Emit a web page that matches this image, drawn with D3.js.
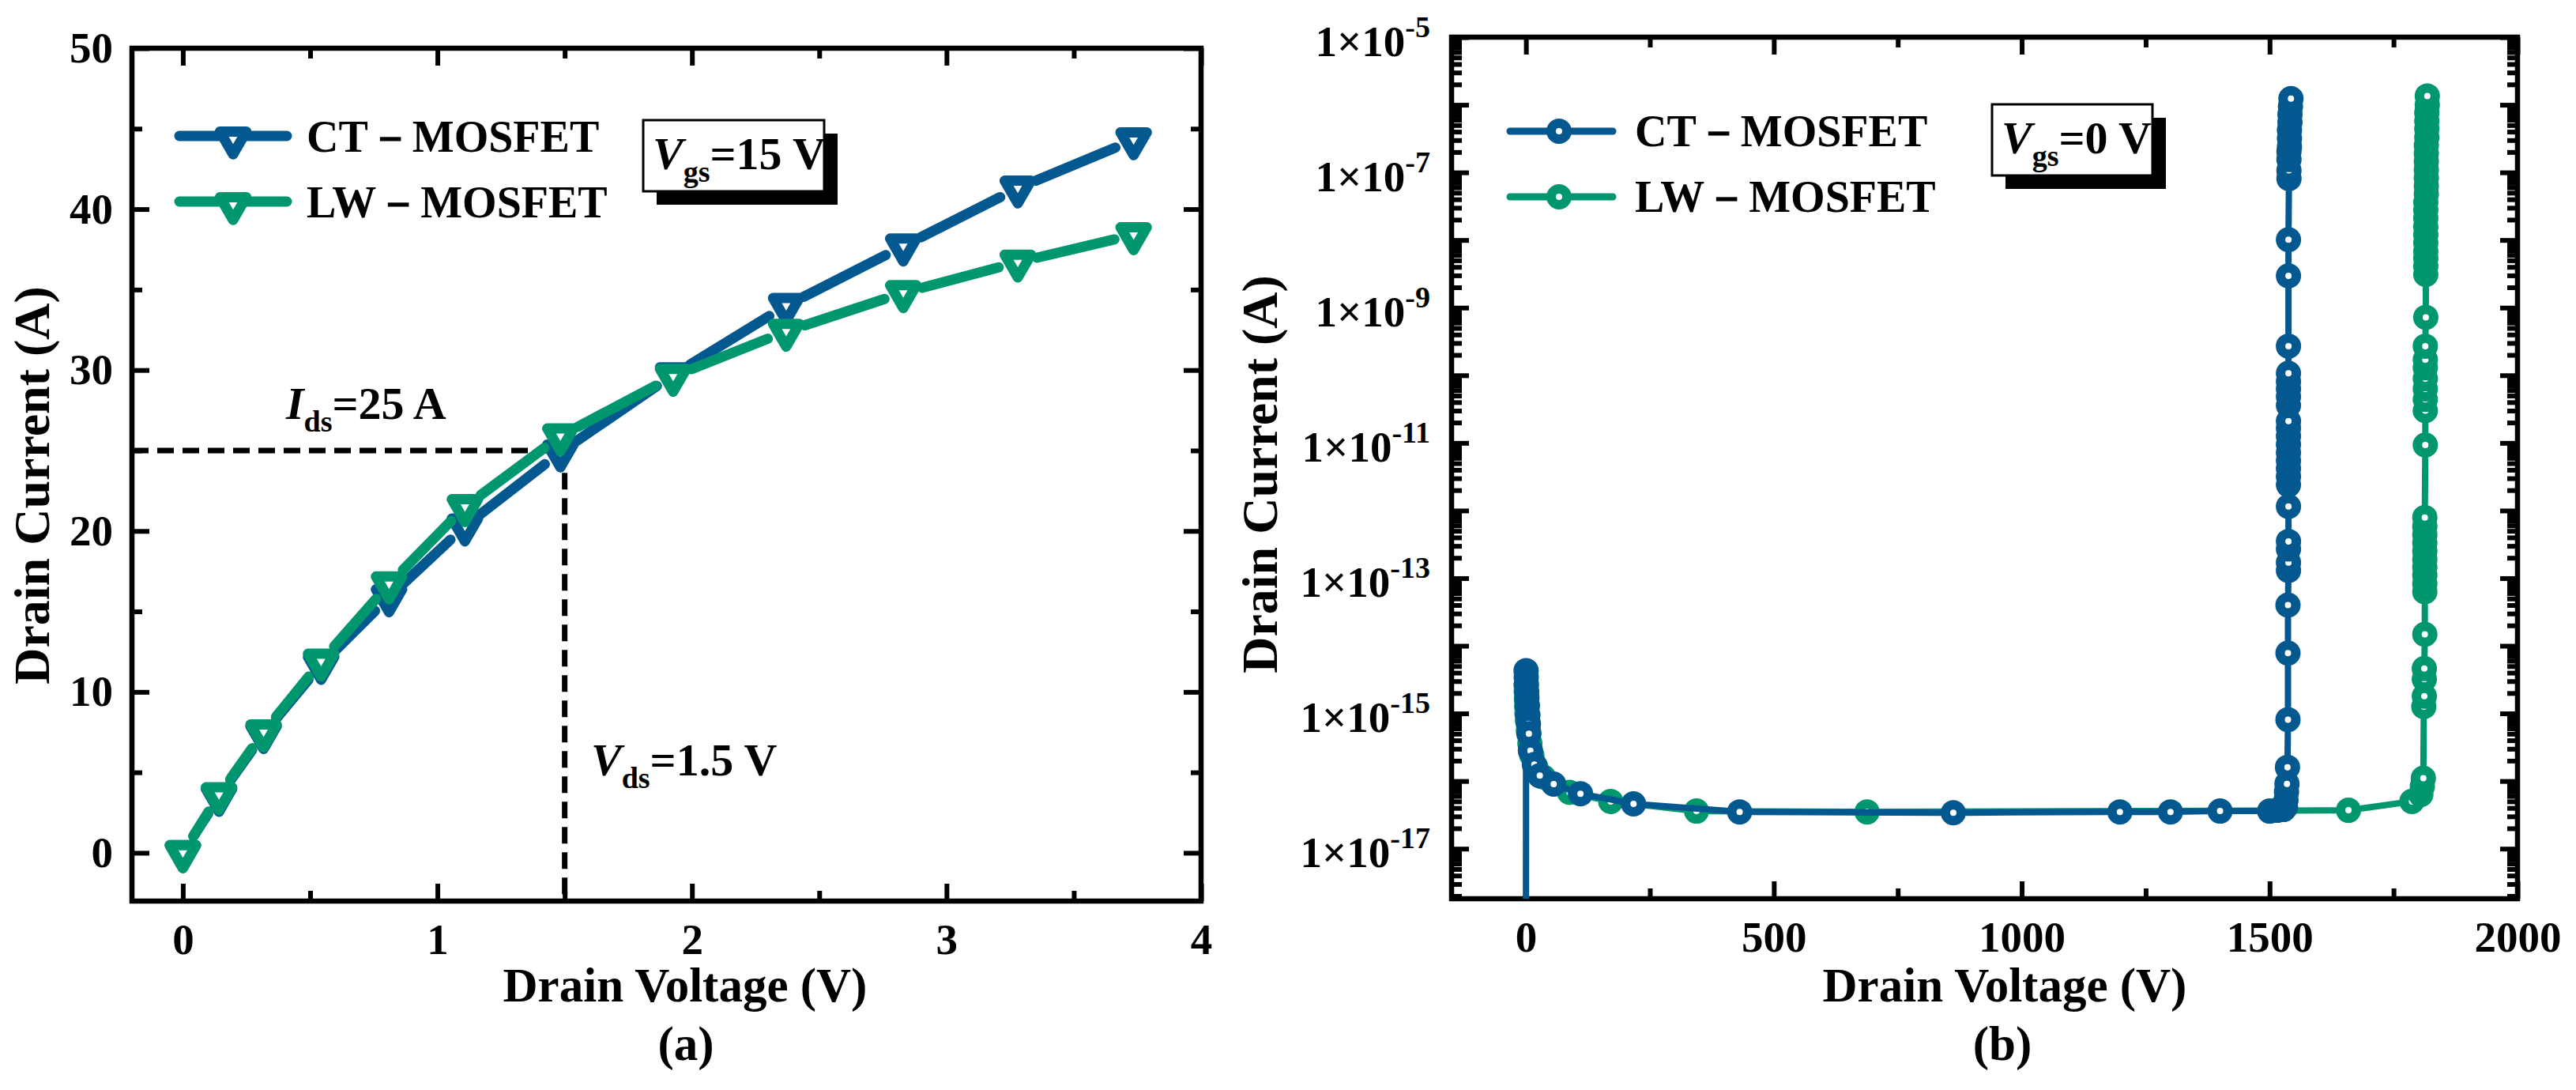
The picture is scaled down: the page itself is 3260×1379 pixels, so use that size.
<!DOCTYPE html>
<html>
<head>
<meta charset="utf-8">
<script src="https://cdn.jsdelivr.net/npm/d3@7"></script>
<style>
body { margin: 0; background: #fff; }
text { font-family: "Liberation Serif", "Times New Roman", serif; font-weight: bold; }
</style>
</head>
<body>
<div id="container"></div>
<script>

// (a) output curves, Vgs = 15 V
var onVoltage = [0, 0.142, 0.317, 0.543, 0.81, 1.108, 1.483, 1.926, 2.37, 2.83, 3.28, 3.735];
var onCT = [0, 3.5, 7.4, 11.7, 15.9, 20.3, 24.9, 29.7, 34.0, 37.7, 41.3, 44.3];
var onLW = [0, 3.6, 7.5, 11.9, 16.7, 21.5, 25.9, 29.6, 32.4, 34.8, 36.7, 38.4];

// (b) blocking curves, Vgs = 0 V
var offCTV = [0, 0.3, 0.6, 1, 1.5, 2, 3, 4, 5, 6, 9, 17, 28, 56, 110, 217, 431, 862, 1198, 1300, 1400, 1500, 1515, 1528,
	1532, 1533, 1534, 1535, 1536, 1537, 1537, 1537, 1538, 1538, 1538, 1538, 1538,
	1538, 1538, 1538, 1538, 1538, 1538, 1538, 1538, 1538,
	1538, 1538, 1538, 1538, 1538, 1538, 1538, 1538,
	1539, 1539, 1539, 1539, 1540, 1540, 1540, 1541, 1541, 1542, 1543];
var offCTI = [1e-19, 4.3e-15, 3.4e-15, 2.7e-15, 2.1e-15, 1.7e-15, 1.3e-15, 9.5e-16, 7e-16, 5e-16, 2.8e-16, 1.75e-16, 1.2e-16, 9e-17, 6.5e-17, 4.6e-17, 3.5e-17, 3.4e-17, 3.5e-17, 3.5e-17, 3.6e-17, 3.6e-17, 3.7e-17, 3.8e-17,
	4.1e-17, 5.2e-17, 6.9e-17, 9.1e-17, 1.6e-16, 8.1e-16, 7.8e-15, 4.0e-14, 1.3e-13, 1.7e-13, 2.7e-13, 3.5e-13, 1.15e-12,
	2.4e-12, 3.2e-12, 4.2e-12, 5.5e-12, 7.2e-12, 9.5e-12, 1.26e-11, 1.66e-11, 2.1e-11,
	3.6e-11, 4.8e-11, 6.3e-11, 8.1e-11, 1.07e-10, 2.7e-10, 2.95e-9, 1.01e-8,
	8.1e-8, 1.07e-7, 1.55e-7, 2.04e-7, 2.4e-7, 3.16e-7, 4.2e-7, 5.5e-7, 7.2e-7, 9.5e-7, 1.23e-6];
var offLWV = [0.3, 0.6, 1, 1.5, 2, 3, 5, 8, 12, 20, 35, 88, 171, 344, 688, 1659, 1787, 1805, 1808, 1810,
	1811, 1812, 1812, 1812, 1813,
	1813, 1813, 1813, 1813, 1813, 1813, 1813, 1813, 1813, 1813,
	1814, 1814, 1814, 1814, 1814, 1814, 1814, 1814, 1815,
	1815, 1815, 1815, 1815, 1815, 1815, 1815, 1815, 1815, 1815,
	1816, 1816, 1816, 1816, 1816, 1816, 1816, 1817, 1817, 1817, 1817, 1818, 1818];
var offLWI = [2.6e-15, 2.1e-15, 1.6e-15, 1.25e-15, 1.0e-15, 8e-16, 5.5e-16, 3.6e-16, 2.4e-16, 1.6e-16, 1.15e-16, 6.8e-17, 5.0e-17, 3.6e-17, 3.5e-17, 3.7e-17, 5.0e-17, 6.3e-17, 8.3e-17, 1.1e-16,
	1.26e-15, 1.8e-15, 3.2e-15, 4.6e-15, 1.48e-14,
	6.3e-14, 8.3e-14, 1.1e-13, 1.45e-13, 1.9e-13, 2.5e-13, 3.3e-13, 4.4e-13, 5.8e-13, 7.9e-13,
	9.3e-12, 3.0e-11, 4.4e-11, 6.3e-11, 8.9e-11, 1.29e-10, 1.7e-10, 2.7e-10, 7.2e-10,
	3.1e-9, 4.1e-9, 5.4e-9, 6.9e-9, 9.1e-9, 1.2e-8, 1.58e-8, 2.1e-8, 2.75e-8, 3.6e-8,
	4.8e-8, 6.3e-8, 8.3e-8, 1.1e-7, 1.45e-7, 1.9e-7, 2.5e-7, 3.3e-7, 4.4e-7, 5.75e-7, 7.6e-7, 1.0e-6, 1.35e-6];

var seriesNames = ["CT\uFF0DMOSFET", "LW\uFF0DMOSFET"];
var seriesColors = ["#03588F", "#00966E"];

var onTicksX = [0, 1, 2, 3, 4];
var onMinorX = [0.5, 1.5, 2.5, 3.5];
var onTicksY = [0, 10, 20, 30, 40, 50];
var onMinorY = [5, 15, 25, 35, 45];
var offTicksX = [0, 500, 1000, 1500, 2000];
var offMinorX = [250, 750, 1250, 1750];
var offDecades = [-17, -16, -15, -14, -13, -12, -11, -10, -9, -8, -7, -6, -5];

var svg = d3.select("#container").append("svg")
	.attr("width", 3260)
	.attr("height", 1379);
svg.append("rect").attr("width", 3260).attr("height", 1379).attr("fill", "#fff");

function gapSegments(pts, gap)
{// line pieces between markers, cut back at both ends like Origin does
	var segs = [];
	for (var i = 0; i < pts.length - 1; i++) {
		var a = pts[i], b = pts[i + 1];
		var dx = b[0] - a[0], dy = b[1] - a[1], L = Math.hypot(dx, dy);
		if (L <= 2 * gap) continue;
		var ux = dx / L, uy = dy / L;
		segs.push([a[0] + ux * gap, a[1] + uy * gap, b[0] - ux * gap, b[1] - uy * gap]);
	}
	return segs;
}

function drawFrame(g, x, y, xMajor, xMinor, yMajor, yMinor, yFormat, padY)
{// four-sided box, ticks inward, labels bottom and left
	var x0 = x.range()[0], x1 = x.range()[1], y0 = y.range()[1], y1 = y.range()[0];
	var axes = [
		g.append("g").attr("transform", "translate(0," + y1 + ")")
			.call(d3.axisBottom(x).tickValues(xMajor).tickSizeInner(-22).tickSizeOuter(0).tickPadding(28).tickFormat(d3.format("d"))),
		g.append("g").attr("transform", "translate(0," + y1 + ")")
			.call(d3.axisBottom(x).tickValues(xMinor).tickSize(-13).tickFormat("")),
		g.append("g").attr("transform", "translate(0," + y0 + ")")
			.call(d3.axisTop(x).tickValues(xMajor).tickSize(-22).tickFormat("")),
		g.append("g").attr("transform", "translate(0," + y0 + ")")
			.call(d3.axisTop(x).tickValues(xMinor).tickSize(-13).tickFormat("")),
		g.append("g").attr("transform", "translate(" + x0 + ",0)")
			.call(d3.axisLeft(y).tickValues(yMajor).tickSizeInner(-22).tickSizeOuter(0).tickPadding(padY).tickFormat(yFormat)),
		g.append("g").attr("transform", "translate(" + x0 + ",0)")
			.call(d3.axisLeft(y).tickValues(yMinor).tickSize(-13).tickFormat("")),
		g.append("g").attr("transform", "translate(" + x1 + ",0)")
			.call(d3.axisRight(y).tickValues(yMajor).tickSize(-22).tickFormat("")),
		g.append("g").attr("transform", "translate(" + x1 + ",0)")
			.call(d3.axisRight(y).tickValues(yMinor).tickSize(-13).tickFormat(""))
	];
	axes.forEach(function (a) {
		a.select(".domain").remove();
		a.selectAll(".tick line").attr("stroke", "#000").attr("stroke-width", 6);
		a.selectAll(".tick text").attr("fill", "#000").attr("font-size", 55)
			.attr("font-family", "Liberation Serif").attr("font-weight", "bold");
	});
	g.append("rect")
		.attr("x", x0).attr("y", y0)
		.attr("width", x1 - x0).attr("height", y1 - y0)
		.attr("fill", "none").attr("stroke", "#000").attr("stroke-width", 6.5);
	return axes;
}

function gsBox(g, bx, by, bw, bh, tail)
{// framed Vgs label with a solid shadow
	g.append("rect").attr("x", bx + 17).attr("y", by + 17).attr("width", bw).attr("height", bh).attr("fill", "#000");
	g.append("rect").attr("x", bx).attr("y", by).attr("width", bw).attr("height", bh)
		.attr("fill", "#fff").attr("stroke", "#000").attr("stroke-width", 3);
	var t = g.append("text").attr("x", bx + 12).attr("y", by + 62).attr("font-size", 58);
	t.append("tspan").attr("font-style", "italic").text("V");
	t.append("tspan").attr("font-size", 38).attr("dy", 16).text("gs");
	t.append("tspan").attr("dy", -16).text(tail);
}

var triangle = d3.symbol().type(d3.symbolTriangle).size(480);

// ---------- (a) ----------
var ga = svg.append("g");
var xa = d3.scaleLinear().domain([-0.2, 4]).range([167, 1520]);
var ya = d3.scaleLinear().domain([-3, 50]).range([1140, 61]);

drawFrame(ga, xa, ya, onTicksX, onMinorX, onTicksY, onMinorY, d3.format("d"), 24);

// Ids = 25 A / Vds = 1.5 V guides
ga.append("path")
	.attr("d", "M" + xa(-0.2) + "," + ya(25) + "H" + xa(1.5) + "V" + ya(-3))
	.attr("fill", "none").attr("stroke", "#000").attr("stroke-width", 7)
	.attr("stroke-dasharray", "21,11");

var onSeries = [onCT, onLW];
onSeries.forEach(function (vals, k) {
	var pts = onVoltage.map((v, i) => [xa(v), ya(vals[i])]);
	var sg = ga.append("g");
	sg.selectAll("line")
		.data(gapSegments(pts, 25))
		.enter()
		.append("line")
			.attr("x1", (d) => d[0]).attr("y1", (d) => d[1])
			.attr("x2", (d) => d[2]).attr("y2", (d) => d[3])
			.attr("stroke", seriesColors[k]).attr("stroke-width", 13)
			.attr("stroke-linecap", "round");
	sg.selectAll("path")
		.data(pts)
		.enter()
		.append("path")
			.attr("d", triangle)
			.attr("transform", (d) => "translate(" + d[0] + "," + d[1] + ") rotate(180)")
			.attr("fill", "#fff").attr("stroke", seriesColors[k]).attr("stroke-width", 13)
			.attr("stroke-linejoin", "round");
});

// legend (a)
seriesNames.forEach(function (name, k) {
	var ly = 172 + k * 83;
	ga.append("line").attr("x1", 227).attr("x2", 363).attr("y1", ly).attr("y2", ly)
		.attr("stroke", seriesColors[k]).attr("stroke-width", 13).attr("stroke-linecap", "round");
	ga.append("path")
		.attr("d", triangle)
		.attr("transform", "translate(295," + (ly + 4) + ") rotate(180)")
		.attr("fill", "#fff").attr("stroke", seriesColors[k]).attr("stroke-width", 13)
		.attr("stroke-linejoin", "round");
	ga.append("text").attr("x", 388).attr("y", ly + 20).attr("font-size", 56).text(name);
});
gsBox(ga, 814, 152, 229, 90, "=15 V");

var t1 = ga.append("text").attr("x", 362).attr("y", 530).attr("font-size", 58);
t1.append("tspan").attr("font-style", "italic").text("I");
t1.append("tspan").attr("font-size", 38).attr("dy", 16).text("ds");
t1.append("tspan").attr("dy", -16).text("=25 A");
var t2 = ga.append("text").attr("x", 748).attr("y", 981).attr("font-size", 58);
t2.append("tspan").attr("font-style", "italic").text("V");
t2.append("tspan").attr("font-size", 38).attr("dy", 16).text("ds");
t2.append("tspan").attr("dy", -16).text("=1.5 V");

ga.append("text").attr("x", 867).attr("y", 1267).attr("text-anchor", "middle").attr("font-size", 61).text("Drain Voltage (V)");
ga.append("text").attr("x", 868).attr("y", 1341).attr("text-anchor", "middle").attr("font-size", 61).text("(a)");
ga.append("text").attr("transform", "translate(62,614) rotate(-90)").attr("text-anchor", "middle").attr("font-size", 64).text("Drain Current (A)");

// ---------- (b) ----------
var gb = svg.append("g");
var xb = d3.scaleLinear().domain([-150, 2000]).range([1837, 3186]);
var yb = d3.scaleLog().domain([Math.pow(10, -17.74), 1e-5]).range([1137, 47]);

var offMajorY = offDecades.map((e) => Math.pow(10, e));
var offMinorY = [];
d3.range(-18, -5).forEach(function (e) {
	d3.range(2, 10).forEach(function (m) {
		var v = m * Math.pow(10, e);
		if (v > yb.domain()[0] && v < yb.domain()[1]) offMinorY.push(v);
	});
});
var logFmt = function (d) {
	var e = Math.round(Math.log10(d));
	return (e % 2 !== 0) ? "1\u00D710|" + e : "";
};
var axesB = drawFrame(gb, xb, yb, offTicksX, offMinorX, offMajorY, offMinorY, logFmt, 27);
axesB[4].selectAll(".tick text").each(function () {
	var s = d3.select(this).text();
	if (!s) return;
	var parts = s.split("|");
	var t = d3.select(this).text("").attr("dy", "0.42em");
	t.append("tspan").text(parts[0]);
	t.append("tspan").attr("font-size", 38).attr("dy", -24).text(parts[1]);
});

gb.append("clipPath").attr("id", "clipB").append("rect")
	.attr("x", 1837).attr("y", 47).attr("width", 3186 - 1837).attr("height", 1137 - 47);
var plotB = gb.append("g").attr("clip-path", "url(#clipB)");

var offSeries = [[offCTV, offCTI], [offLWV, offLWI]];
[1, 0].forEach(function (k) { // LW underneath, CT on top
	var V = offSeries[k][0], I = offSeries[k][1];
	var pts = V.map((v, i) => [xb(v), yb(I[i])]);
	var sg = plotB.append("g");
	sg.selectAll("line")
		.data(gapSegments(pts, 17))
		.enter()
		.append("line")
			.attr("x1", (d) => d[0]).attr("y1", (d) => d[1])
			.attr("x2", (d) => d[2]).attr("y2", (d) => d[3])
			.attr("stroke", seriesColors[k]).attr("stroke-width", 8)
			.attr("stroke-linecap", "round");
	sg.selectAll("circle")
		.data(pts)
		.enter()
		.append("circle")
			.attr("cx", (d) => d[0]).attr("cy", (d) => d[1]).attr("r", 10)
			.attr("fill", "#fff").attr("stroke", seriesColors[k]).attr("stroke-width", 12);
});

// legend (b)
seriesNames.forEach(function (name, k) {
	var ly = 166 + k * 83;
	gb.append("line").attr("x1", 1911).attr("x2", 2041).attr("y1", ly).attr("y2", ly)
		.attr("stroke", seriesColors[k]).attr("stroke-width", 9).attr("stroke-linecap", "round");
	gb.append("circle").attr("cx", 1973).attr("cy", ly).attr("r", 10)
		.attr("fill", "#fff").attr("stroke", seriesColors[k]).attr("stroke-width", 12);
	gb.append("text").attr("x", 2069).attr("y", ly + 19).attr("font-size", 56).text(name);
});
gsBox(gb, 2521, 132, 203, 90, "=0 V");

gb.append("text").attr("x", 2537).attr("y", 1267).attr("text-anchor", "middle").attr("font-size", 61).text("Drain Voltage (V)");
gb.append("text").attr("x", 2534).attr("y", 1341).attr("text-anchor", "middle").attr("font-size", 61).text("(b)");
gb.append("text").attr("transform", "translate(1616,600) rotate(-90)").attr("text-anchor", "middle").attr("font-size", 64).text("Drain Current (A)");

</script>
</body>
</html>
